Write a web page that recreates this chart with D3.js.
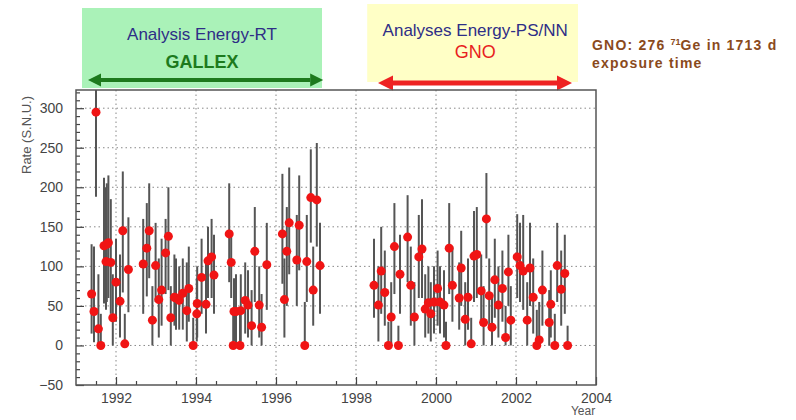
<!DOCTYPE html>
<html lang="en">
<head>
  <meta charset="UTF-8">
  <title>GALLEX / GNO solar neutrino rates</title>
  <style>
  body {
    margin: 0;
    background: white;
  }
  svg text {
    font-family: "Liberation Sans", Arial, sans-serif;
  }
  .axis text {
    fill: #444;
    font-size: 14px;
  }
  .axis path {
    display: none;
  }
  .axis line {
    stroke: #444;
    stroke-width: 1.2;
  }
  .grid line {
    stroke: #888;
    stroke-width: 1;
    stroke-dasharray: 1.5,3;
  }
  .err {
    stroke: #555;
    stroke-width: 2;
  }
  .dot {
    fill: #f01414;
  }
  </style>
</head>
<body>
  <script src="https://d3js.org/d3.v7.min.js"></script>
  <script>

  // GALLEX runs: time (year), rate (SNU), lower / upper end of the error bar
  var gallexTime = [1991.39, 1991.45, 1991.50, 1991.56, 1991.62, 1991.70, 1991.75, 1991.77, 1991.81, 1991.87,
                    1991.92, 1992.00, 1992.10, 1992.17, 1992.22, 1992.31, 1992.68, 1992.77, 1992.83, 1992.91,
                    1992.99, 1993.07, 1993.14, 1993.24, 1993.31, 1993.37, 1993.46, 1993.50, 1993.58, 1993.67,
                    1993.77, 1993.82, 1993.93, 1994.02, 1994.03, 1994.14, 1994.25, 1994.30, 1994.39, 1994.45,
                    1994.83, 1994.88, 1994.93, 1994.95, 1995.00, 1995.10, 1995.12, 1995.23, 1995.30, 1995.39,
                    1995.47, 1995.58, 1995.64, 1995.77, 1996.16, 1996.21, 1996.27, 1996.33, 1996.52, 1996.58,
                    1996.72, 1996.77, 1996.87, 1996.93, 1997.02, 1997.10];
  var gallexRate = [65, 43, 295, 21, 0, 126, 106, 128, 130, 105,
                    35, 80, 56, 145, 2, 96, 103, 123, 145, 32,
                    101, 58, 70, 117, 138, 35, 61, 60, 57, 66,
                    44, 72, 0, 40, 53, 86, 52, 107, 112, 89,
                    141, 105, 0, 43, 43, 0, 44, 57, 51, 25,
                    119, 51, 23, 102, 141, 58, 119, 155, 108, 152,
                    0, 106, 187, 70, 184, 101];
  var gallexLow  = [15, 4, 188, 0, 0, 53, 45, 55, 60, 40,
                    0, 30, 10, 67, 0, 42, 40, 62, 85, 0,
                    55, 10, 25, 65, 70, 0, 25, 20, 20, 20,
                    5, 30, 0, 5, 10, 40, 15, 60, 60, 40,
                    80, 60, 0, 5, 0, 0, 5, 15, 10, 0,
                    55, 10, 0, 45, 78, 10, 50, 90, 50, 95,
                    0, 55, 130, 25, 125, 40];
  var gallexHigh = [128, 125, 330, 90, 40, 212, 200, 205, 215, 185,
                    90, 135, 115, 220, 40, 162, 160, 180, 205, 75,
                    155, 110, 135, 160, 200, 75, 115, 110, 100, 110,
                    105, 125, 35, 85, 100, 135, 105, 150, 160, 140,
                    205, 145, 40, 85, 90, 40, 90, 105, 95, 70,
                    175, 100, 65, 155, 217, 110, 175, 225, 165, 215,
                    55, 165, 248, 125, 256, 155];

  // GNO runs
  var gnoTime = [1998.45, 1998.56, 1998.63, 1998.72, 1998.81, 1998.88, 1998.96, 1999.06, 1999.10, 1999.29,
                 1999.37, 1999.46, 1999.57, 1999.65, 1999.73, 1999.81, 1999.87, 1999.95, 2000.04, 2000.10,
                 2000.20, 2000.25, 2000.33, 2000.41, 2000.58, 2000.63, 2000.73, 2000.80, 2000.88, 2000.95,
                 2001.02, 2001.13, 2001.19, 2001.26, 2001.33, 2001.40, 2001.47, 2001.56, 2001.66, 2001.74,
                 2001.81, 2001.87, 2002.03, 2002.10, 2002.18, 2002.28, 2002.35, 2002.43, 2002.52, 2002.58,
                 2002.66, 2002.83, 2002.87, 2002.97, 2003.03, 2003.13, 2003.22, 2003.29];
  var gnoRate = [76, 51, 94, 67, 0, 36, 125, 0, 90, 137,
                 76, 36, 112, 122, 46, 54, 40, 55, 72, 55,
                 51, 0, 123, 76, 60, 98, 33, 61, 2, 113,
                 115, 69, 29, 160, 63, 23, 83, 51, 72, 10,
                 93, 32, 112, 101, 94, 32, 98, 61, 0, 7,
                 70, 29, 52, 0, 101, 71, 91, 0];
  var gnoLow  = [35, 5, 40, 25, 0, 0, 65, 0, 40, 80,
                 25, 0, 60, 60, 10, 15, 5, 15, 25, 15,
                 10, 0, 65, 30, 20, 50, 0, 20, 0, 55,
                 60, 25, 0, 110, 20, 0, 35, 10, 30, 0,
                 50, 0, 60, 55, 45, 0, 50, 15, 0, 0,
                 25, 0, 10, 0, 55, 25, 40, 0];
  var gnoHigh = [135, 100, 150, 120, 30, 80, 180, 25, 140, 190,
                 125, 80, 165, 185, 90, 100, 80, 100, 120, 100,
                 95, 30, 180, 125, 105, 145, 80, 110, 35, 170,
                 175, 115, 75, 218, 110, 65, 135, 100, 120, 50,
                 140, 75, 166, 155, 165, 80, 155, 110, 45, 55,
                 120, 70, 95, 40, 155, 120, 140, 25];

  var yMajorTicks = [-50, 0, 50, 100, 150, 200, 250, 300];
  var yGridTicks = [0, 50, 100, 150, 200, 250, 300];
  var xMajorTicks = [1992, 1994, 1996, 1998, 2000, 2002, 2004];
  var xGridTicks = [1992, 1994, 1996, 1998, 2000, 2002];

  var width = 796;
  var height = 420;
  var margin = { top: 90, right: 200, bottom: 35, left: 76 };
  var plotW = width - margin.left - margin.right;
  var plotH = height - margin.top - margin.bottom;

  var x = d3.scaleLinear().domain([1991, 2004]).range([0, plotW]);
  var y = d3.scaleLinear().domain([-50, 323]).range([plotH, 0]);

  var svg = d3.select('body').append('svg')
              .attr('width', width)
              .attr('height', height);

  // header boxes and arrows
  svg.append('rect')
     .attr('x', margin.left + x(1991.15)).attr('y', 8)
     .attr('width', x(1997.15) - x(1991.15)).attr('height', 80)
     .attr('fill', '#aaf2b8');
  svg.append('rect')
     .attr('x', margin.left + x(1998.28)).attr('y', 4)
     .attr('width', x(2003.55) - x(1998.28)).attr('height', 78)
     .attr('fill', '#ffffc6');

  function arrow(x1, x2, yy, color, thick, head) {
    svg.append('line')
       .attr('x1', x1 + head).attr('x2', x2 - head)
       .attr('y1', yy).attr('y2', yy)
       .attr('stroke', color).attr('stroke-width', thick);
    svg.append('path')
       .attr('d', 'M' + x1 + ',' + yy + 'L' + (x1 + head) + ',' + (yy - head * 0.5) + 'L' + (x1 + head) + ',' + (yy + head * 0.5) + 'Z')
       .attr('fill', color);
    svg.append('path')
       .attr('d', 'M' + x2 + ',' + yy + 'L' + (x2 - head) + ',' + (yy - head * 0.5) + 'L' + (x2 - head) + ',' + (yy + head * 0.5) + 'Z')
       .attr('fill', color);
  }
  arrow(margin.left + x(1991.3), margin.left + x(1997.18), 80, '#1d7a1d', 4, 13);
  arrow(margin.left + x(1998.55), margin.left + x(2003.4), 83, '#ee2222', 5, 15);

  svg.append('text')
     .attr('x', margin.left + x(1994.15)).attr('y', 40)
     .attr('text-anchor', 'middle')
     .style('font-size', '17px').style('fill', '#2e2e86')
     .text('Analysis Energy-RT');
  svg.append('text')
     .attr('x', margin.left + x(1994.15)).attr('y', 68)
     .attr('text-anchor', 'middle')
     .style('font-size', '18px').style('font-weight', 'bold').style('fill', '#1d7a1d')
     .text('GALLEX');
  svg.append('text')
     .attr('x', margin.left + x(2000.98)).attr('y', 36)
     .attr('text-anchor', 'middle')
     .style('font-size', '17px').style('fill', '#2e2e86')
     .text('Analyses Energy-PS/NN');
  svg.append('text')
     .attr('x', margin.left + x(2000.98)).attr('y', 58)
     .attr('text-anchor', 'middle')
     .style('font-size', '18px').style('fill', '#e81e1e')
     .text('GNO');

  var note = svg.append('g')
                .style('font-family', '"DejaVu Sans", sans-serif')
                .style('font-weight', 'bold')
                .style('font-size', '14px')
                .style('letter-spacing', '1.2px')
                .style('fill', '#8a4a1c');
  var line1 = note.append('text').attr('x', 592).attr('y', 50);
  line1.append('tspan').text('GNO: 276 ');
  line1.append('tspan').attr('dy', -5).style('font-size', '9px').style('letter-spacing', '0px').text('71');
  line1.append('tspan').attr('dy', 5).text('Ge in 1713 d');
  note.append('text').attr('x', 592).attr('y', 68).text('exposure time');

  var g = svg.append('g')
             .attr('transform', 'translate(' + margin.left + ',' + margin.top + ')');

  // dotted grid
  g.append('g').attr('class', 'grid')
   .selectAll('line').data(yGridTicks).enter().append('line')
   .attr('x1', 0).attr('x2', plotW)
   .attr('y1', function (d) { return y(d); })
   .attr('y2', function (d) { return y(d); });
  g.append('g').attr('class', 'grid')
   .selectAll('line').data(xGridTicks).enter().append('line')
   .attr('y1', 0).attr('y2', plotH)
   .attr('x1', function (d) { return x(d); })
   .attr('x2', function (d) { return x(d); });

  // axes, ticks pointing inward
  g.append('g').attr('class', 'axis')
   .call(d3.axisLeft(y).tickValues(yMajorTicks).tickSize(-8).tickPadding(13));
  g.append('g').attr('class', 'axis')
   .call(d3.axisLeft(y).tickValues(d3.range(-40, 321, 10).filter(function (v) { return v % 50 !== 0; }))
           .tickSize(-4).tickFormat(''));
  g.append('g').attr('class', 'axis')
   .attr('transform', 'translate(0,' + plotH + ')')
   .call(d3.axisBottom(x).tickValues(xMajorTicks).tickFormat(d3.format('d')).tickSize(-8).tickPadding(8));
  g.append('g').attr('class', 'axis')
   .attr('transform', 'translate(0,' + plotH + ')')
   .call(d3.axisBottom(x).tickValues(d3.range(1991.5, 2004, 1)).tickSize(-4).tickFormat(''));

  g.append('rect')
   .attr('width', plotW).attr('height', plotH)
   .attr('fill', 'none').attr('stroke', '#555').attr('stroke-width', 1.5);

  svg.append('text')
     .attr('transform', 'translate(31,135) rotate(-90)')
     .attr('text-anchor', 'middle')
     .style('font-size', '13px').style('fill', '#555')
     .text('Rate (S.N.U.)');
  svg.append('text')
     .attr('x', 583).attr('y', 415)
     .attr('text-anchor', 'middle')
     .style('font-size', '12px').style('fill', '#555')
     .text('Year');

  // data
  function runs(time, rate, low, high) {
    return time.map(function (t, i) {
      return { t: t, r: rate[i], lo: low[i], hi: Math.min(high[i], 323) };
    });
  }
  var data = runs(gallexTime, gallexRate, gallexLow, gallexHigh)
               .concat(runs(gnoTime, gnoRate, gnoLow, gnoHigh));

  g.append('g').selectAll('line').data(data).enter().append('line')
   .attr('class', 'err')
   .attr('x1', function (d) { return x(d.t); })
   .attr('x2', function (d) { return x(d.t); })
   .attr('y1', function (d) { return y(d.lo); })
   .attr('y2', function (d) { return y(d.hi); });

  g.append('g').selectAll('circle').data(data).enter().append('circle')
   .attr('class', 'dot')
   .attr('cx', function (d) { return x(d.t); })
   .attr('cy', function (d) { return y(d.r); })
   .attr('r', 4.5);
  </script>
</body>
</html>
